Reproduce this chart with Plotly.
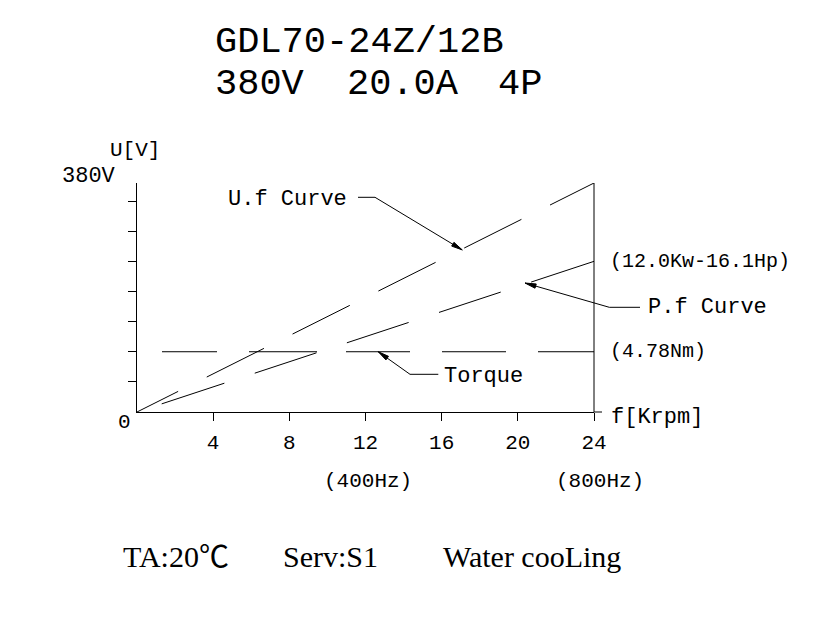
import math
import plotly.graph_objects as go

# ---------------- data ----------------
speed_krpm = [0, 24]            # f [Krpm]
uf_voltage = [0, 380]           # U.f curve (V)
pf_curve = [0, 250]             # P.f curve, drawn on the U scale (ends at 12.0Kw-16.1Hp)
torque_curve = [100, 100]       # constant torque line (4.78Nm)
x_tick_vals = [4, 8, 12, 16, 20, 24]
x_tick_text = ["4", "8", "12", "16", "20", "24"]
y_tick_vals = [50, 100, 150, 200, 250, 300, 350]

title_line1 = "GDL70-24Z/12B"
title_line2 = ["380V", "20.0A", "4P"]
footer = ["TA:20℃", "Serv:S1", "Water cooLing"]

# ---------------- geometry (page pixels) ----------------
OFF = 8                      # default body margin of the html page
W, H = 836, 617
L, T, PW, PH = 137, 183, 457, 229
XMAX, YMAX = 24, 380
CAD = "Liberation Mono, DejaVu Sans Mono, monospace"
SERIF = "Liberation Serif, Noto Sans CJK SC, serif"


def px2paper(px, py):
    return (px - L) / PW, (T + PH - py) / PH


def data2px(x, y):
    return L + x / XMAX * PW, T + PH - y / YMAX * PH


fig = go.Figure()

fig.add_trace(go.Scatter(
    x=speed_krpm, y=uf_voltage, mode="lines", hoverinfo="skip", showlegend=False,
    line=dict(color="black", width=1,
              dash="46px,32px,64px,32px,64px,32px,64px,32px,64px,32px,64px")))
fig.add_trace(go.Scatter(
    x=speed_krpm, y=pf_curve, mode="lines", hoverinfo="skip", showlegend=False,
    line=dict(color="black", width=1,
              dash="0px,26px,66px,32px,65px,32px,65px,32px,65px,32px,70px")))
fig.add_trace(go.Scatter(
    x=speed_krpm, y=torque_curve, mode="lines", hoverinfo="skip", showlegend=False,
    line=dict(color="black", width=1,
              dash="0px,25px,55px,32px,68px,29px,64px,32px,64px,32px,60px")))

shapes = []
annotations = []


def pline(p1, p2):
    (x0, y0), (x1, y1) = px2paper(*p1), px2paper(*p2)
    shapes.append(dict(type="line", xref="paper", yref="paper", x0=x0, y0=y0,
                       x1=x1, y1=y1, line=dict(color="black", width=1)))


def arrow(tail, tip, length=11, half=2.2):
    pline(tail, tip)
    dx, dy = tip[0] - tail[0], tip[1] - tail[1]
    n = math.hypot(dx, dy)
    ux, uy = dx / n, dy / n
    bx, by = tip[0] - length * ux, tip[1] - length * uy
    pts = [tip, (bx - half * uy, by + half * ux), (bx + half * uy, by - half * ux)]
    pp = [px2paper(*p) for p in pts]
    path = "M{},{} L{},{} L{},{} Z".format(pp[0][0], pp[0][1], pp[1][0], pp[1][1],
                                           pp[2][0], pp[2][1])
    shapes.append(dict(type="path", xref="paper", yref="paper", path=path,
                       fillcolor="black", line=dict(color="black", width=1)))


def text(s, px, py, size, anchor="left", family=CAD):
    x, y = px2paper(px, py)
    annotations.append(dict(text=s, x=x, y=y, xref="paper", yref="paper",
                            xanchor=anchor, yanchor="middle", showarrow=False,
                            font=dict(family=family, size=size, color="black")))


# axis frame extras
x24, y0 = data2px(24, 0)
_, ytop = data2px(24, 380)
pline((x24, y0), (x24 + 8, y0))          # x axis extension past 24
pline((x24, ytop), (x24, y0))            # right vertical line

# leader lines with arrows
uf_tip = data2px(17.08, 269)
pline((358, 197.3), (375, 197.3))
arrow((375, 197.3), uf_tip)

pf_tip = data2px(20.38, 214)
pline((609.3, 307.3), (640, 307.3))
arrow((609.3, 307.3), pf_tip)

tq_tip = data2px(12.67, 100)
pline((410, 374.3), (438.3, 374.3))
arrow((410, 374.3), tq_tip)

# texts
text(title_line1, 213, 41.5, 37)
text(title_line2[0], 213, 84, 37)
text(title_line2[1], 345, 84, 37)
text(title_line2[2], 496, 84, 37)

text("U[V]", 108, 150, 21)
text("380V", 118, 176, 22, anchor="right")
text("0", 124, 422, 21, anchor="center")
text("f[Krpm]", 609, 417, 22)
text("(400Hz)", 368, 481, 21, anchor="center")
text("(800Hz)", 600, 481, 21, anchor="center")
_, y250 = data2px(0, pf_curve[-1])
_, y100 = data2px(0, torque_curve[-1])
text("(12.0Kw-16.1Hp)", 608, y250, 20)
text("(4.78Nm)", 608, y100, 20)
text("P.f Curve", 646, 307.3, 22)
text("Torque", 442, 376.5, 22)
text("U.f Curve", 226, 199, 22)

text(footer[0], 121, 556, 30, family=SERIF)
text(footer[1], 281, 556, 30, family=SERIF)
text(footer[2], 441, 556, 30, family=SERIF)

FW, FH = W - OFF, H - OFF
fig.update_layout(
    width=FW, height=FH, autosize=False,
    margin=dict(l=L - OFF, r=FW - (L - OFF) - PW, t=T - OFF, b=FH - (T - OFF) - PH, pad=0),
    paper_bgcolor="white", plot_bgcolor="white",
    shapes=shapes, annotations=annotations, showlegend=False,
    xaxis=dict(range=[0, XMAX], showgrid=False, zeroline=False, showline=True,
               linecolor="black", linewidth=1, ticks="outside", ticklen=8,
               tickwidth=1, tickcolor="black", tickvals=x_tick_vals,
               ticktext=x_tick_text, ticklabelstandoff=3,
               tickfont=dict(family=CAD, size=21, color="black"), fixedrange=True),
    yaxis=dict(range=[0, YMAX], showgrid=False, zeroline=False, showline=True,
               linecolor="black", linewidth=1, ticks="outside", ticklen=8,
               tickwidth=1, tickcolor="black", tickvals=y_tick_vals,
               showticklabels=False, fixedrange=True),
)

fig.write_html("out.html")
